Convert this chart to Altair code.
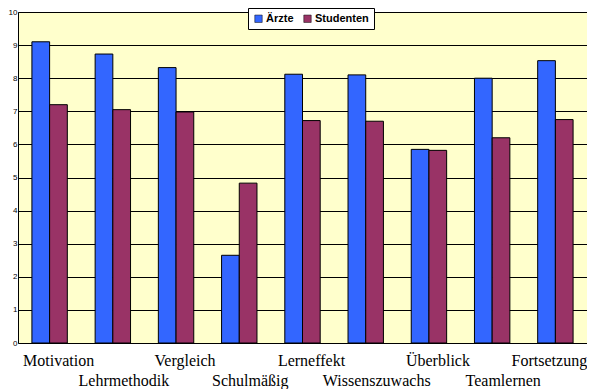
import altair as alt
import pandas as pd

categories = ["Motivation", "Lehrmethodik", "Vergleich", "Schulmäßig", "Lerneffekt",
              "Wissenszuwachs", "Überblick", "Teamlernen", "Fortsetzung"]
groups = ["Ärzte", "Studenten"]
aerzte = [9.1, 8.73, 8.32, 2.65, 8.12, 8.1, 5.85, 8.0, 8.53]
studenten = [7.2, 7.05, 6.98, 4.83, 6.72, 6.7, 5.82, 6.2, 6.75]
y_ticks = list(range(0, 11))

rows = []
for c, a, s in zip(categories, aerzte, studenten):
    rows.append({"category": c, "group": "Ärzte", "value": a})
    rows.append({"category": c, "group": "Studenten", "value": s})
df = pd.DataFrame(rows)

top_df = pd.DataFrame({"category": categories[0:-1:2]})
last_df = pd.DataFrame({"category": categories[-1:]})
bot_df = pd.DataFrame({"category": categories[1::2]})

W, H = 569, 331

xscale = alt.Scale(domain=categories, paddingInner=0.44, paddingOuter=0.22)

bars = alt.Chart(df).mark_bar(stroke="black", strokeWidth=1).encode(
    x=alt.X("category:N", sort=categories, scale=xscale, axis=None),
    xOffset=alt.XOffset("group:N", sort=groups),
    y=alt.Y("value:Q", scale=alt.Scale(domain=[0, 10], nice=False),
            axis=alt.Axis(values=y_ticks, title=None, grid=True, gridColor="black",
                          gridWidth=1, gridOpacity=1, domainColor="black", ticks=False,
                          labelFont="Liberation Sans", labelFontSize=8, labelColor="black",
                          labelPadding=1)),
    color=alt.Color("group:N", scale=alt.Scale(domain=groups, range=["#3366FF", "#993366"]),
                    legend=alt.Legend(orient="none", legendX=230, legendY=-4,
                                      direction="horizontal", title=None,
                                      fillColor="white", strokeColor="black", padding=5,
                                      symbolType="square", symbolSize=55,
                                      symbolStrokeColor="black", symbolStrokeWidth=0.5,
                                      labelFont="Liberation Sans", labelFontSize=11,
                                      labelFontWeight="bold", labelColor="black",
                                      columnPadding=8, labelOffset=2)),
)


def label_layer(data, ypos, dx):
    return alt.Chart(data).mark_text(font="Liberation Serif", fontSize=16, color="black",
                                     baseline="middle", dx=dx).encode(
        x=alt.X("category:N", sort=categories, scale=xscale, axis=None),
        y=alt.value(ypos),
        text="category:N",
    )


text_top = label_layer(top_df, H + 18, 9)
text_last = label_layer(last_df, H + 18, -6)
text_bot = label_layer(bot_df, H + 38, 11)

chart = alt.layer(bars, text_top, text_last, text_bot).properties(
    width=W, height=H,
    autosize=alt.AutoSizeParams(type="none"),
    padding={"left": 10, "top": 4, "right": 0, "bottom": 46},
    background="white",
).configure_view(fill="#FFFFCC", stroke="#808080", strokeWidth=1)

chart.save("out.html", embed_options={"renderer": "svg", "actions": False})
